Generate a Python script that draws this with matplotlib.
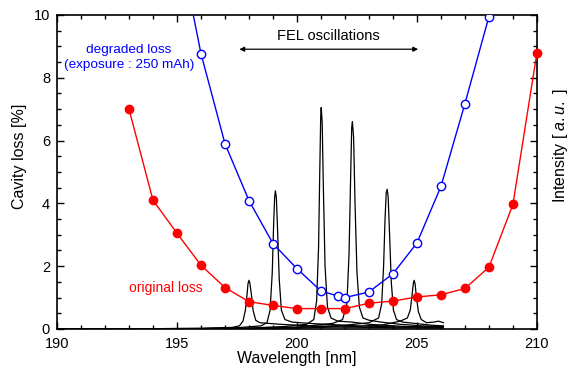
import matplotlib
matplotlib.use("Agg")
from matplotlib import pyplot as plt
from matplotlib.ticker import MultipleLocator

plt.rcParams["font.family"] = ["Liberation Sans", "DejaVu Sans"]
plt.rcParams["mathtext.fontset"] = "custom"
plt.rcParams["mathtext.rm"] = "Liberation Sans"
plt.rcParams["mathtext.it"] = "Liberation Sans:italic"

# cavity loss [%] vs wavelength [nm]
orig_wl = [193, 194, 195, 196, 197, 198, 199, 200, 201, 202, 203, 204, 205, 206, 207, 208, 209, 210]
orig_loss = [7.0, 4.1, 3.05, 2.03, 1.32, 0.87, 0.75, 0.65, 0.65, 0.65, 0.82, 0.89, 1.02, 1.09, 1.29, 1.97, 3.97, 8.8]

degr_wl = [195, 196, 197, 198, 199, 200, 201, 201.7, 202, 203, 204, 205, 206, 207, 208]
degr_loss = [12.6, 8.77, 5.9, 4.09, 2.72, 1.92, 1.21, 1.05, 1.0, 1.18, 1.76, 2.74, 4.54, 7.18, 9.95]

# FEL spectra (arbitrary units, drawn on the loss scale)
spec1_wl = [190, 194, 196, 197.3, 197.6, 197.75, 197.85, 197.92, 197.96, 198.0, 198.04, 198.1,
            198.17, 198.28, 198.45, 198.8, 199.3, 200.5, 202, 204, 206.1]
spec1_int = [0.0, 0.01, 0.02, 0.05, 0.1, 0.25, 0.6, 1.1, 1.45, 1.55, 1.45, 1.1,
             0.6, 0.28, 0.2, 0.18, 0.15, 0.1, 0.06, 0.04, 0.03]

spec2_wl = [190, 194, 196, 197.5, 198.5, 198.75, 198.88, 198.97, 199.03, 199.07, 199.1, 199.14,
            199.19, 199.26, 199.35, 199.5, 199.8, 200.5, 201.2, 202.5, 204.5, 206.1]
spec2_int = [0.0, 0.01, 0.02, 0.04, 0.1, 0.2, 0.6, 1.8, 3.4, 4.2, 4.4, 4.2,
             3.2, 1.6, 0.6, 0.3, 0.22, 0.18, 0.15, 0.1, 0.06, 0.05]

spec3_wl = [190, 194, 196, 198, 199.5, 200.4, 200.7, 200.82, 200.9, 200.95, 200.99, 201.01,
            201.05, 201.1, 201.17, 201.27, 201.42, 201.7, 202.3, 203, 204.5, 206.1]
spec3_int = [0.0, 0.0, 0.01, 0.03, 0.08, 0.15, 0.3, 0.9, 2.6, 5.0, 6.8, 7.05,
             6.6, 4.5, 2.0, 0.7, 0.35, 0.25, 0.22, 0.15, 0.08, 0.06]

spec4_wl = [190, 194, 196, 198, 200, 201.5, 201.9, 202.08, 202.17, 202.23, 202.28, 202.31,
            202.36, 202.42, 202.5, 202.6, 202.75, 203.0, 203.5, 204.3, 205.2, 206.1]
spec4_int = [0.0, 0.0, 0.01, 0.02, 0.06, 0.18, 0.3, 0.8, 2.4, 4.6, 6.4, 6.6,
             6.1, 4.0, 1.8, 0.7, 0.35, 0.28, 0.22, 0.15, 0.1, 0.08]

spec5_wl = [190, 196, 198, 200, 202, 203.0, 203.4, 203.53, 203.61, 203.67, 203.72, 203.76,
            203.8, 203.86, 203.93, 204.02, 204.15, 204.4, 205.0, 205.6, 206.1]
spec5_int = [0.0, 0.0, 0.02, 0.05, 0.12, 0.2, 0.35, 0.8, 2.0, 3.5, 4.35, 4.45,
             4.2, 3.0, 1.5, 0.6, 0.3, 0.22, 0.17, 0.12, 0.1]

spec6_wl = [190, 196, 198, 200, 202, 203.5, 204.3, 204.6, 204.72, 204.8, 204.85, 204.88,
            204.92, 204.98, 205.06, 205.18, 205.4, 205.7, 205.9, 206.1]
spec6_int = [0.0, 0.0, 0.01, 0.03, 0.07, 0.12, 0.25, 0.35, 0.6, 1.1, 1.45, 1.55,
             1.45, 1.0, 0.55, 0.3, 0.2, 0.22, 0.25, 0.2]

spectra = [(spec1_wl, spec1_int), (spec2_wl, spec2_int), (spec3_wl, spec3_int),
           (spec4_wl, spec4_int), (spec5_wl, spec5_int), (spec6_wl, spec6_int)]

fig = plt.figure(figsize=(5.7, 3.72), dpi=100)
ax = fig.add_axes([0.1, 0.1156, 0.842, 0.8441])

for sx, sy in spectra:
    ax.plot(sx, sy, color="black", lw=0.9, zorder=2)

ax.plot(degr_wl, degr_loss, color="blue", lw=1, marker="o", ms=6,
        mfc="white", mec="blue", mew=1, zorder=3)
ax.plot(orig_wl, orig_loss, color="red", lw=1, marker="o", ms=6,
        mfc="red", mec="red", zorder=4, clip_on=False)

ax.set_xlim(190, 210)
ax.set_ylim(0, 10)
ax.xaxis.set_major_locator(MultipleLocator(5))
ax.xaxis.set_minor_locator(MultipleLocator(1))
ax.yaxis.set_major_locator(MultipleLocator(2))
ax.yaxis.set_minor_locator(MultipleLocator(0.5))
ax.tick_params(which="both", direction="in", top=True, right=True, width=1, labelsize=10.5)
ax.tick_params(which="major", length=5)
ax.tick_params(which="minor", length=3)
ax.tick_params(axis="x", pad=6)
ax.tick_params(axis="y", pad=5)
for sp in ax.spines.values():
    sp.set_linewidth(1.2)

ax.text(193.0, 8.65, "degraded loss\n(exposure : 250 mAh)", color="blue",
        ha="center", va="center", fontsize=9.7, linespacing=1.25)
ax.text(194.54, 1.3, "original loss", color="red", ha="center", va="center", fontsize=10)
ax.text(201.3, 9.33, "FEL oscillations", ha="center", va="center", fontsize=10.5)
ax.annotate("", xy=(197.6, 8.91), xytext=(205.05, 8.91),
            arrowprops=dict(arrowstyle="<|-|>", color="black", lw=0.9,
                            mutation_scale=7, shrinkA=0, shrinkB=0))

fig.text(297 / 570, 1 - 358 / 372, "Wavelength [nm]", ha="center", va="center", fontsize=11.5)
fig.text(20 / 570, 1 - 156 / 372, "Cavity loss [%]", ha="center", va="center",
         rotation=90, fontsize=11.5)
fig.text(561 / 570, 1 - 146 / 372, r"Intensity [ $\it{a.u.}$ ]", ha="center", va="center",
         rotation=90, fontsize=11.5)

fig.savefig("out.png", dpi=100)
